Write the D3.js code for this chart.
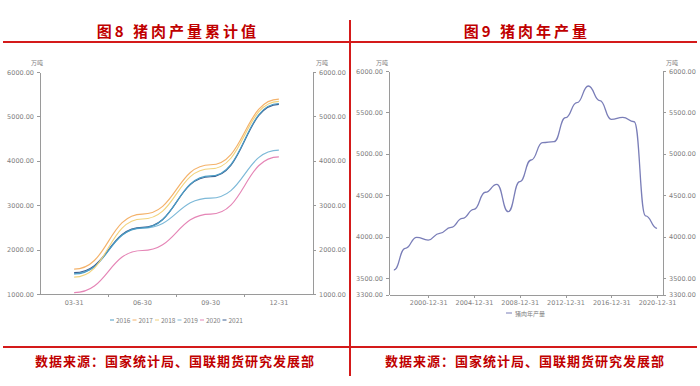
<!doctype html>
<html lang="zh">
<head>
<meta charset="utf-8">
<title>猪肉产量</title>
<style>
  body { margin: 0; background: #fff; }
  svg { display: block; font-family: "Noto Sans CJK SC", "DejaVu Sans", sans-serif; }
  .axis path, .axis line { stroke: #9a9a9a; shape-rendering: crispEdges; }
  .axis text { fill: #808080; font-size: 6.5px; font-family: "DejaVu Sans", sans-serif; }
  .unit { fill: #808080; font-size: 6px; }
  .title { fill: #c00000; font-size: 15px; font-weight: 700; letter-spacing: 3px; }
  .src { fill: #c00000; font-size: 13px; font-weight: 700; letter-spacing: 1px; }
  .legend text { fill: #808080; font-size: 6.5px; }
</style>
</head>
<body>
<script src="https://cdn.jsdelivr.net/npm/d3@7"></script>
<script>

// ---- data, left chart (cumulative pork output, 10k tonnes)
var quarters = ['03-31', '06-30', '09-30', '12-31'];
var seriesYears = ['2016', '2017', '2018', '2019', '2020', '2021'];
var v2016 = [1450, 2490, 3660, 5290];
var v2017 = [1560, 2800, 3910, 5390];
var v2018 = [1380, 2690, 3820, 5340];
var v2019 = [1460, 2480, 3160, 4240];
var v2020 = [1030, 1980, 2800, 4090];
var v2021 = [1480, 2500, 3640, 5270];
var leftTicks = [1000, 2000, 3000, 4000, 5000, 6000];

// ---- data, right chart (annual pork output, 10k tonnes)
var years = [1997, 1998, 1999, 2000, 2001, 2002, 2003, 2004, 2005, 2006, 2007, 2008,
             2009, 2010, 2011, 2012, 2013, 2014, 2015, 2016, 2017, 2018, 2019, 2020];
var annual = [3596, 3858, 3991, 3958, 4039, 4111, 4220, 4329, 4535, 4631, 4300, 4663,
              4925, 5134, 5146, 5436, 5617, 5819, 5641, 5416, 5440, 5387, 4250, 4100];
var rightTicks = [3300, 3500, 4000, 4500, 5000, 5500, 6000];
var dateTickYears = [2000, 2004, 2008, 2012, 2016, 2020];

var colors = {
  '2016': '#4a9cc4',
  '2017': '#f4b26a',
  '2018': '#f2d37c',
  '2019': '#7db9d8',
  '2020': '#e585b6',
  '2021': '#3d5f90'
};
var leftSeries = [v2016, v2017, v2018, v2019, v2020, v2021];

var svg = d3.select('body').append('svg')
    .attr('width', 700)
    .attr('height', 386);

// frame lines
var red = '#d41a1a';
svg.append('line').attr('x1', 3).attr('x2', 697).attr('y1', 42).attr('y2', 42)
  .attr('stroke', red).attr('stroke-width', 2);
svg.append('line').attr('x1', 3).attr('x2', 697).attr('y1', 347).attr('y2', 347)
  .attr('stroke', red).attr('stroke-width', 2);
svg.append('line').attr('x1', 350).attr('x2', 350).attr('y1', 20).attr('y2', 376)
  .attr('stroke', red).attr('stroke-width', 2);

svg.append('text').attr('class', 'title').attr('x', 178).attr('y', 37)
  .attr('text-anchor', 'middle').text('图8  猪肉产量累计值');
svg.append('text').attr('class', 'title').attr('x', 527).attr('y', 37)
  .attr('text-anchor', 'middle').text('图9  猪肉年产量');

svg.append('text').attr('class', 'src').attr('x', 175).attr('y', 366)
  .attr('text-anchor', 'middle').text('数据来源：国家统计局、国联期货研究发展部');
svg.append('text').attr('class', 'src').attr('x', 525).attr('y', 366)
  .attr('text-anchor', 'middle').text('数据来源：国家统计局、国联期货研究发展部');

// ---------- left chart
var x1 = d3.scaleBand().domain(quarters).range([40, 313]).padding(0);
var y1 = d3.scaleLinear().domain([1000, 6000]).range([294, 72]);
var fmt = d3.format('.2f');

svg.append('g').attr('class', 'axis')
  .attr('transform', 'translate(40,0)')
  .call(d3.axisLeft(y1).tickValues(leftTicks).tickFormat(fmt).tickSize(3).tickSizeOuter(0));
svg.append('g').attr('class', 'axis')
  .attr('transform', 'translate(313,0)')
  .call(d3.axisRight(y1).tickValues(leftTicks).tickFormat(fmt).tickSize(3).tickSizeOuter(0));
var xa1 = svg.append('g').attr('class', 'axis')
  .attr('transform', 'translate(0,294)')
  .call(d3.axisBottom(x1).tickSize(0).tickPadding(6));
// ticks on band boundaries
xa1.selectAll('.bnd').data(quarters.slice(1)).enter().append('line')
  .attr('x1', function(d) { return x1(d); })
  .attr('x2', function(d) { return x1(d); })
  .attr('y1', 0).attr('y2', 3);

svg.append('text').attr('class', 'unit').attr('x', 31).attr('y', 65).text('万吨');
svg.append('text').attr('class', 'unit').attr('x', 316).attr('y', 65).text('万吨');

var line1 = d3.line()
  .x(function(d, i) { return x1(quarters[i]) + x1.bandwidth() / 2; })
  .y(function(d) { return y1(d); })
  .curve(d3.curveBumpX);

// draw in an order so the top lines sit over the others
var order = [3, 4, 5, 0, 2, 1];
order.forEach(function(k) {
  svg.append('path')
    .datum(leftSeries[k])
    .attr('fill', 'none')
    .attr('stroke', colors[seriesYears[k]])
    .attr('stroke-width', 1.15)
    .attr('d', line1);
});

var lg1 = svg.append('g').attr('class', 'legend');
seriesYears.forEach(function(yr, i) {
  var gx = 110 + i * 22.5;
  lg1.append('line').attr('x1', gx).attr('x2', gx + 4).attr('y1', 320).attr('y2', 320)
    .attr('stroke', colors[yr]).attr('stroke-width', 1);
  lg1.append('text').attr('x', gx + 6).attr('y', 322.5).text(yr);
});

// ---------- right chart
var x2 = d3.scaleTime()
  .domain([new Date(1997, 6, 29), new Date(2021, 6, 9)])
  .range([389, 663]);
var y2 = d3.scaleLinear().domain([3300, 6000]).range([294.5, 71]);

svg.append('g').attr('class', 'axis')
  .attr('transform', 'translate(389,0)')
  .call(d3.axisLeft(y2).tickValues(rightTicks).tickFormat(fmt).tickSize(3).tickSizeOuter(0));
svg.append('g').attr('class', 'axis')
  .attr('transform', 'translate(663,0)')
  .call(d3.axisRight(y2).tickValues(rightTicks).tickFormat(fmt).tickSize(3).tickSizeOuter(0));
svg.append('g').attr('class', 'axis')
  .attr('transform', 'translate(0,294.5)')
  .call(d3.axisBottom(x2)
    .tickValues(dateTickYears.map(function(y) { return new Date(y, 11, 31); }))
    .tickFormat(d3.timeFormat('%Y-%m-%d'))
    .tickSize(3).tickSizeOuter(0));

svg.append('text').attr('class', 'unit').attr('x', 376).attr('y', 65).text('万吨');
svg.append('text').attr('class', 'unit').attr('x', 666).attr('y', 65).text('万吨');

var line2 = d3.line()
  .x(function(d, i) { return x2(new Date(years[i], 11, 31)); })
  .y(function(d) { return y2(d); })
  .curve(d3.curveBumpX);

svg.append('path')
  .datum(annual)
  .attr('fill', 'none')
  .attr('stroke', '#7a7eb8')
  .attr('stroke-width', 1.3)
  .attr('d', line2);

var lg2 = svg.append('g').attr('class', 'legend');
lg2.append('line').attr('x1', 506).attr('x2', 512).attr('y1', 313).attr('y2', 313)
  .attr('stroke', '#7a7eb8').attr('stroke-width', 1);
lg2.append('text').attr('x', 515).attr('y', 315.5).style('font-size', '6px').text('猪肉年产量');

</script>
</body>
</html>
